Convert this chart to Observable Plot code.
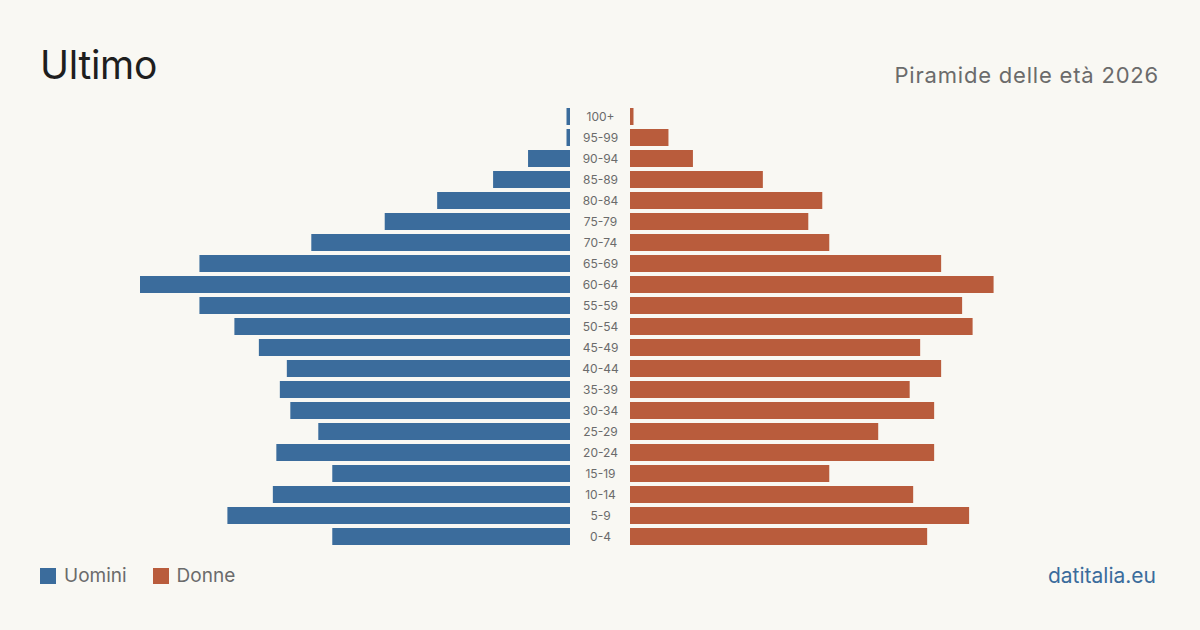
<!DOCTYPE html>
<html>
<head>
<meta charset="utf-8">
<script src="https://cdn.jsdelivr.net/npm/d3@7"></script>
<script src="https://cdn.jsdelivr.net/npm/@observablehq/plot@0.6"></script>
<style>
  html, body { margin: 0; padding: 0; background: #f9f8f3; }
  #page { position: relative; width: 1200px; height: 630px; overflow: hidden; background: #f9f8f3; font-family: Inter, "Noto Sans", sans-serif; }
  #title { position: absolute; left: 40px; top: 41px; font-size: 39px; line-height: 48px; color: #1e1e1e; letter-spacing: -0.3px; }
  #subtitle { position: absolute; right: 41px; top: 61px; font-size: 22px; line-height: 28px; color: #6b6b6b; letter-spacing: 0.8px; }
  #chart { position: absolute; left: 0; top: 100px; }
  #legend { position: absolute; left: 40px; top: 563px; display: flex; align-items: center; font-size: 19px; line-height: 26px; color: #6b6b6b; }
  #legend .sw { width: 16px; height: 16px; display: inline-block; margin-right: 8px; }
  #legend .item { display: flex; align-items: center; margin-right: 26px; }
  #source { position: absolute; right: 44px; top: 562px; font-size: 21px; line-height: 28px; color: #3b6c9c; }
</style>
</head>
<body>
<div id="page">
  <div id="title">Ultimo</div>
  <div id="subtitle">Piramide delle età 2026</div>
  <div id="chart"></div>
  <div id="legend"></div>
  <div id="source">datitalia.eu</div>
</div>
<script>
// Age classes, oldest on top
const ageGroups = ["100+", "95-99", "90-94", "85-89", "80-84", "75-79", "70-74", "65-69", "60-64", "55-59",
  "50-54", "45-49", "40-44", "35-39", "30-34", "25-29", "20-24", "15-19", "10-14", "5-9", "0-4"];

// Residents per age class
const men   = [1, 1, 12, 22, 38, 53, 74, 106, 123, 106, 96, 89, 81, 83, 80, 72, 84, 68, 85, 98, 68];
const women = [1, 11, 18, 38, 55, 51, 57, 89, 104, 95, 98, 83, 89, 80, 87, 71, 87, 57, 81, 97, 85];

const seriesNames = ["Uomini", "Donne"];
const colors = ["#3b6c9c", "#b95c3c"];

const rows = ageGroups.map((age, i) => ({age, men: men[i], women: women[i]}));
const maxVal = d3.max([...men, ...women]);

const chart = Plot.plot({
  width: 1200,
  height: 455,
  marginTop: 3.4,
  marginBottom: 6.4,
  marginLeft: 170,
  marginRight: 170,
  style: {background: "transparent", fontFamily: "Inter, sans-serif"},
  x: {domain: [-maxVal, maxVal], axis: null},
  y: {domain: ageGroups, padding: 0.2, axis: null},
  marks: [
    // men grow leftwards, women rightwards, with a gap for the labels
    Plot.barX(rows, {y: "age", x1: 0, x2: d => -d.men, fill: colors[0], dx: -30}),
    Plot.barX(rows, {y: "age", x1: 0, x2: "women", fill: colors[1], dx: 30}),
    Plot.text(rows, {y: "age", x: 0, text: "age", fontSize: 12, fill: "#6b6b6b"})
  ]
});
document.getElementById("chart").appendChild(chart);

// Legend
const legend = document.getElementById("legend");
seriesNames.forEach((name, i) => {
  const item = document.createElement("span");
  item.className = "item";
  const sw = document.createElement("span");
  sw.className = "sw";
  sw.style.background = colors[i];
  item.appendChild(sw);
  item.appendChild(document.createTextNode(name));
  legend.appendChild(item);
});
</script>
</body>
</html>
